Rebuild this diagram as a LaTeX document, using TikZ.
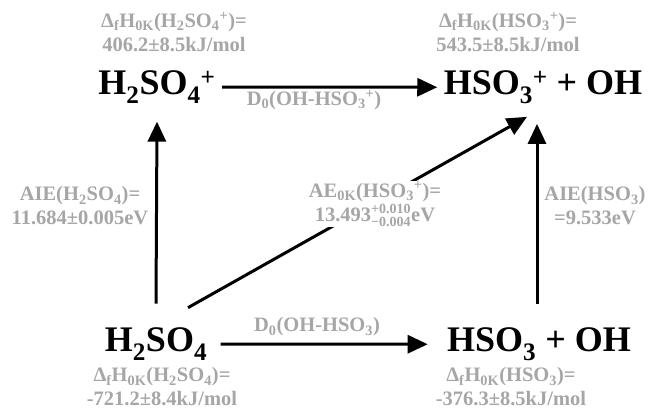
\documentclass[tikz,border=0pt]{standalone}
\usepackage{fontspec}
\setmainfont{Liberation Serif}
\usetikzlibrary{arrows.meta,calc}
\definecolor{labelgray}{RGB}{166,166,166}
\def\dfh{Δ\textsubscript{f}H\textsubscript{0K}}
\def\bound#1{\mbox{\fontsize{14}{14}\selectfont #1}}

\begin{document}
\begin{tikzpicture}[x=1pt,y=-1pt,line width=3pt,>={Triangle[length=20pt,width=18pt]}]
    \tikzstyle{species}=[font=\fontsize{36}{40}\selectfont\bfseries,inner sep=0pt,anchor=base]
    \tikzstyle{annot}=[font=\fontsize{20.5}{24}\selectfont\bfseries,text=labelgray,align=center,inner sep=1pt]
    \tikzstyle{reaction}=[->]

    \useasboundingbox (0,0) rectangle (649,411);

    % Draw the species
    \node[species] (h2so4p) at (157,95) {H\textsubscript{2}SO\textsubscript{4}\textsuperscript{+}};
    \node[species] (hso3p) at (543,95) {HSO\textsubscript{3}\textsuperscript{+} + OH};
    \node[species] (h2so4) at (156,352) {H\textsubscript{2}SO\textsubscript{4}};
    \node[species] (hso3) at (539,352) {HSO\textsubscript{3} + OH};

    % Connect the species
    \draw[reaction,shorten <=5pt,shorten >=5pt] (h2so4p.east) -- (hso3p.west);
    \draw[reaction,shorten <=12pt,shorten >=18pt] (h2so4.east) -- (hso3.west);
    \draw[reaction] ($(h2so4.north)+(0,-23)$) -- ($(h2so4p.south)+(0,17)$);
    \draw[reaction] ($(hso3.north)+(-2,-23)$) -- ($(hso3p.south)+(-6,19)$);
    \draw[reaction] ($(h2so4.north)+(32,-19)$) -- ($(hso3p.south)+(-16,12)$);

    % Annotate the species and the steps
    \node[annot] (hf-h2so4p) at (174,32) {\dfh(H\textsubscript{2}SO\textsubscript{4}\textsuperscript{+})=\\406.2±8.5kJ/mol};
    \node[annot] (hf-hso3p) at (508,32) {\dfh(HSO\textsubscript{3}\textsuperscript{+})=\\543.5±8.5kJ/mol};
    \node[annot] (hf-h2so4) at (162,387) {\dfh(H\textsubscript{2}SO\textsubscript{4})=\\-721.2±8.4kJ/mol};
    \node[annot] (hf-hso3) at (511,387) {\dfh(HSO\textsubscript{3})=\\-376.3±8.5kJ/mol};
    \node[annot] (d0-top) at (314,100) {D\textsubscript{0}(OH-HSO\textsubscript{3}\textsuperscript{+})};
    \node[annot] (d0-bot) at (317,327) {D\textsubscript{0}(OH-HSO\textsubscript{3})};
    \node[annot] (aie-h2so4) at (80,206) {AIE(H\textsubscript{2}SO\textsubscript{4})=\\11.684±0.005eV};
    \node[annot] (aie-hso3) at (595,206) {AIE(HSO\textsubscript{3})\\=9.533eV};
    \node[annot,fill=white] (ae-hso3p) at (375,204) {AE\textsubscript{0K}(HSO\textsubscript{3}\textsuperscript{+})=\\13.493\(^{\bound{+0.010}}_{\bound{−0.004}}\)eV};
\end{tikzpicture}
\end{document}
